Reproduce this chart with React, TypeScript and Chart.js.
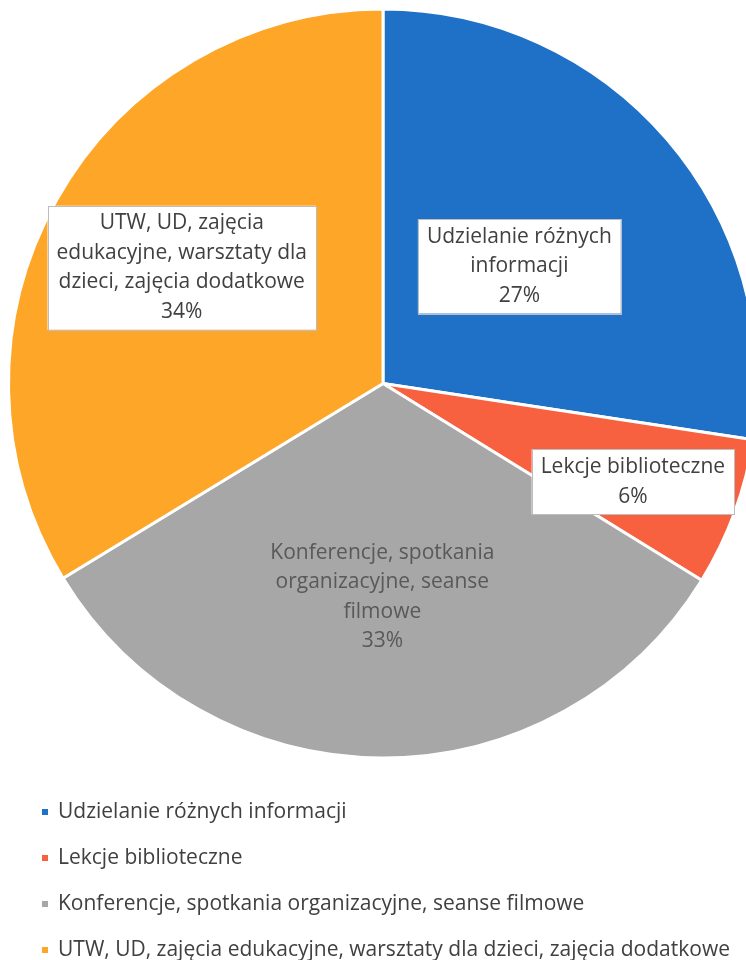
import React, { useEffect, useRef } from "react";
import { Chart, registerables } from "chart.js";

Chart.register(...registerables);

const categories = [
  "Udzielanie różnych informacji",
  "Lekcje biblioteczne",
  "Konferencje, spotkania organizacyjne, seanse filmowe",
  "UTW, UD, zajęcia edukacyjne, warsztaty dla dzieci, zajęcia dodatkowe",
];
const values = [27.4, 6.4, 32.5, 33.7];
const percentLabels = ["27%", "6%", "33%", "34%"];
const colors = ["#1E71C6", "#F7613F", "#A7A7A7", "#FDA628"];
const sliceLabelLines = [
  ["Udzielanie różnych", "informacji"],
  ["Lekcje biblioteczne"],
  ["Konferencje, spotkania", "organizacyjne, seanse", "filmowe"],
  ["UTW, UD, zajęcia", "edukacyjne, warsztaty dla", "dzieci, zajęcia dodatkowe"],
];
const labelBoxed = [true, true, false, true];
const labelRadiusFrac = [0.48, 0.717, 0.57, 0.62];
const labelAngleShift = [0, 0.023, 0, 0.01];

const FONT = "'Open Sans', Lato, sans-serif";

const labelPlugin = {
  id: "sliceLabels",
  afterDatasetsDraw(chart: any) {
    const ctx = chart.ctx;
    const meta = chart.getDatasetMeta(0);
    ctx.save();
    ctx.font = `21px ${FONT}`;
    ctx.textAlign = "center";
    ctx.textBaseline = "middle";
    meta.data.forEach((arc: any, i: number) => {
      const p = arc.getProps(["x", "y", "startAngle", "endAngle", "outerRadius"], true);
      const mid = (p.startAngle + p.endAngle) / 2 + labelAngleShift[i];
      const r = p.outerRadius * labelRadiusFrac[i];
      const cx = p.x + Math.cos(mid) * r;
      const cy = p.y + Math.sin(mid) * r;
      const lines = [...sliceLabelLines[i], percentLabels[i]];
      const lh = 29.5;
      const w = Math.max(...lines.map((l) => ctx.measureText(l).width));
      const boxW = w + 18;
      const boxH = lines.length * lh + 6;
      if (labelBoxed[i]) {
        ctx.fillStyle = "#FFFFFF";
        ctx.fillRect(cx - boxW / 2, cy - boxH / 2, boxW, boxH);
        ctx.strokeStyle = "#BDBDBD";
        ctx.lineWidth = 1;
        ctx.strokeRect(Math.round(cx - boxW / 2) + 0.5, Math.round(cy - boxH / 2) + 0.5, Math.round(boxW), Math.round(boxH));
        ctx.fillStyle = "#404040";
      } else {
        ctx.fillStyle = "#595959";
      }
      lines.forEach((l, k) => {
        ctx.fillText(l, cx, cy - ((lines.length - 1) * lh) / 2 + k * lh);
      });
    });
    ctx.restore();
  },
};

const legendPlugin = {
  id: "vertLegend",
  afterDraw(chart: any) {
    const ctx = chart.ctx;
    ctx.save();
    ctx.font = `21px ${FONT}`;
    ctx.textAlign = "left";
    ctx.textBaseline = "middle";
    categories.forEach((c, i) => {
      const y = 812 + i * 46;
      ctx.fillStyle = colors[i];
      ctx.fillRect(42, y - 3, 6, 6);
      ctx.fillStyle = "#404040";
      ctx.fillText(c, 58, y);
    });
    ctx.restore();
  },
};

export default function App() {
  const ref = useRef<HTMLCanvasElement | null>(null);
  useEffect(() => {
    if (!ref.current) return;
    const chart = new Chart(ref.current, {
      type: "pie",
      data: {
        labels: categories,
        datasets: [
          {
            data: values,
            backgroundColor: colors,
            borderColor: "#FFFFFF",
            borderWidth: 3,
          },
        ],
      },
      options: {
        responsive: false,
        animation: false,
        layout: { padding: { left: 7, top: 7, right: 11, bottom: 200 } },
        plugins: {
          legend: { display: false },
          tooltip: { enabled: false },
        },
      },
      plugins: [labelPlugin, legendPlugin],
    });
    return () => chart.destroy();
  }, []);
  return (
    <div style={{ position: "absolute", left: 0, top: 0, width: 746, height: 960, overflow: "hidden", background: "#fff" }}>
      <canvas ref={ref} width={770} height={960} style={{ width: 770, height: 960, display: "block" }} />
    </div>
  );
}
